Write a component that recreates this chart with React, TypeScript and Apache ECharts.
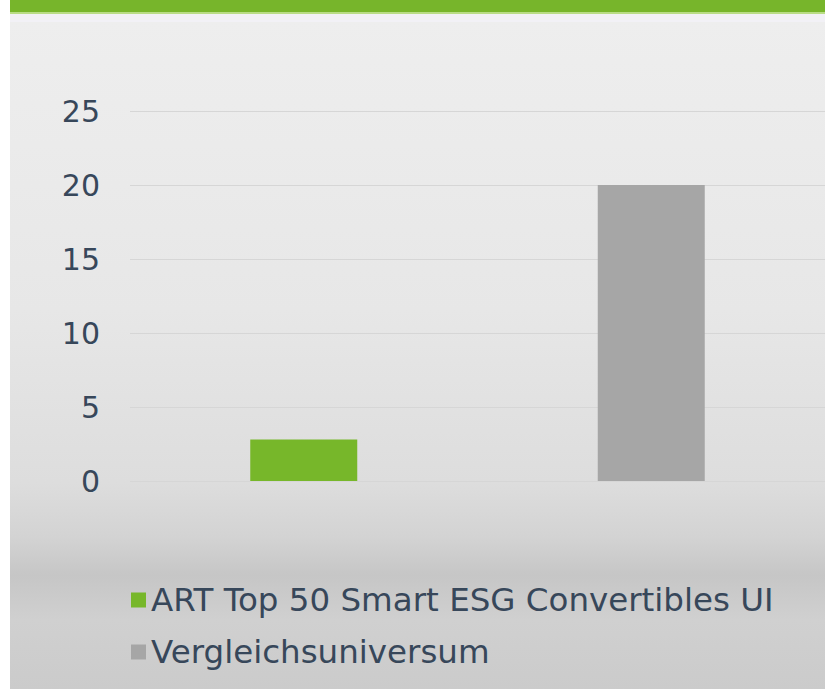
import React, { useEffect, useRef } from "react";
import * as echarts from "echarts";

const categories = ["ART Top 50 Smart ESG Convertibles UI", "Vergleichsuniversum"];
const seriesNames = ["ART Top 50 Smart ESG Convertibles UI", "Vergleichsuniversum"];
const fundValues: (number | string)[] = [2.8, "-"];
const peerValues: (number | string)[] = ["-", 20];
const yTicks = { min: 0, max: 25, interval: 5 };

const GREEN = "#77b72a";
const GREY = "#a6a6a6";
const TEXT = "#37475a";
const FONT = "DejaVu Sans";

export default function App() {
  const ref = useRef<HTMLDivElement>(null);
  useEffect(() => {
    if (!ref.current) return;
    const chart = echarts.init(ref.current, undefined, { renderer: "svg" });
    chart.setOption({
      animation: false,
      backgroundColor: {
        type: "linear",
        x: 0,
        y: 0,
        x2: 0,
        y2: 1,
        colorStops: [
          { offset: 0, color: "#f0f0f0" },
          { offset: 0.03, color: "#eeeeee" },
          { offset: 0.45, color: "#e7e7e7" },
          { offset: 0.7, color: "#dddddd" },
          { offset: 0.78, color: "#d3d3d3" },
          { offset: 0.835, color: "#c6c6c6" },
          { offset: 0.9, color: "#d0d0d0" },
          { offset: 1, color: "#cbcbcb" },
        ],
      },
      graphic: [
        { type: "rect", left: 0, top: 0, z: 10, shape: { width: 815, height: 12 }, style: { fill: "#77b52b" } },
        { type: "rect", left: 0, top: 12, z: 10, shape: { width: 815, height: 2 }, style: { fill: "#b9dc86" } },
        { type: "rect", left: 0, top: 14, z: 10, shape: { width: 815, height: 8 }, style: { fill: "#f2f1f6" } },
      ],
      grid: { left: 120, right: -5, top: 111, bottom: 208, containLabel: false },
      xAxis: {
        type: "category",
        data: categories,
        axisLine: { show: false },
        axisTick: { show: false },
        axisLabel: { show: false },
        splitLine: { show: false },
      },
      yAxis: {
        type: "value",
        min: yTicks.min,
        max: yTicks.max,
        interval: yTicks.interval,
        axisLine: { show: false },
        axisTick: { show: false },
        axisLabel: { color: TEXT, fontFamily: FONT, fontSize: 30, margin: 30 },
        splitLine: { lineStyle: { color: "#d6d6d6", width: 1 } },
      },
      legend: {
        orient: "vertical",
        left: 116,
        top: 577,
        icon: "rect",
        itemWidth: 15,
        itemHeight: 15,
        itemGap: 16,
        textStyle: { color: TEXT, fontFamily: FONT, fontSize: 32.5, lineHeight: 36 },
        data: seriesNames,
      },
      series: [
        {
          name: seriesNames[0],
          type: "bar",
          data: fundValues,
          barWidth: 107,
          barGap: "-100%",
          itemStyle: { color: GREEN },
        },
        {
          name: seriesNames[1],
          type: "bar",
          data: peerValues,
          barWidth: 107,
          barGap: "-100%",
          itemStyle: { color: GREY },
        },
      ],
    });
    return () => chart.dispose();
  }, []);
  return (
    <div
      ref={ref}
      style={{ position: "absolute", left: 10, top: 0, width: 815, height: 689 }}
    />
  );
}
